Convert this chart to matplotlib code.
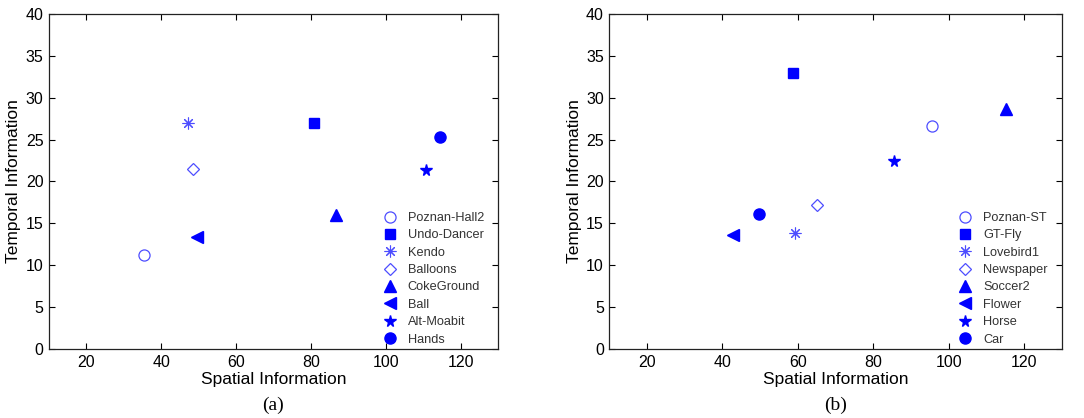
import matplotlib
matplotlib.use("Agg")
import matplotlib.pyplot as plt

plt.rcParams['font.family'] = ['Liberation Sans', 'DejaVu Sans']

# Panel (a)
names_a = ["Poznan-Hall2", "Undo-Dancer", "Kendo", "Balloons", "CokeGround", "Ball", "Alt-Moabit", "Hands"]
si_a = [35.4, 80.8, 47.2, 48.6, 86.7, 49.5, 110.7, 114.5]
ti_a = [11.2, 27.0, 27.0, 21.5, 16.0, 13.4, 21.4, 25.3]

# Panel (b)
names_b = ["Poznan-ST", "GT-Fly", "Lovebird1", "Newspaper", "Soccer2", "Flower", "Horse", "Car"]
si_b = [95.5, 58.8, 59.3, 65.0, 115.3, 42.8, 85.6, 49.7]
ti_b = [26.6, 33.0, 13.8, 17.2, 28.7, 13.6, 22.5, 16.1]

light = '#4d4dff'
blue = '#0000ff'

fig = plt.figure(figsize=(10.84, 4.18), dpi=100)
ax_a = fig.add_axes([0.0452, 0.1651, 0.4142, 0.8014])
ax_b = fig.add_axes([0.5621, 0.1651, 0.4173, 0.8014])


def draw(ax, names, xs, ys, caption):
    styles = [
        dict(marker='o', markersize=8, markerfacecolor='none', markeredgecolor=light, markeredgewidth=0.9),
        dict(marker='s', markersize=6.5, color=blue, markeredgecolor=blue),
        dict(marker=(8, 2, 0), markersize=8.5, color=light, markeredgecolor=light, markeredgewidth=0.8),
        dict(marker='D', markersize=6.5, markerfacecolor='none', markeredgecolor=light, markeredgewidth=0.9),
        dict(marker='^', markersize=8, color=blue, markeredgecolor=blue),
        dict(marker='<', markersize=8, color=blue, markeredgecolor=blue),
        dict(marker='*', markersize=8.5, color=blue, markeredgecolor=blue),
        dict(marker='o', markersize=8, color=blue, markeredgecolor=blue),
    ]
    for n, x, y, st in zip(names, xs, ys, styles):
        ax.plot([x], [y], linestyle='none', label=n, **st)
    ax.set_xlim(10, 130)
    ax.set_ylim(0, 40)
    ax.set_xticks([20, 40, 60, 80, 100, 120])
    ax.set_yticks(range(0, 41, 5))
    ax.tick_params(direction='in', top=True, right=True, length=4, width=0.8,
                   labelsize=11.5, colors='black', pad=4)
    for s in ax.spines.values():
        s.set_linewidth(0.9)
        s.set_color('#222222')
    ax.set_xlabel('Spatial Information', fontsize=12.5, labelpad=2)
    ax.set_ylabel('Temporal Information', fontsize=12.5, labelpad=3)
    leg = ax.legend(loc='lower right', frameon=False, fontsize=9.2,
                    handletextpad=0.8, labelspacing=0.42, borderaxespad=0.0,
                    handlelength=1.2, bbox_to_anchor=(0.98, -0.005))
    for t in leg.get_texts():
        t.set_color('#333333')
    ax.text(0.5, -0.168, caption, transform=ax.transAxes, ha='center', va='center',
            fontsize=14, family=['Liberation Serif', 'DejaVu Serif'])


draw(ax_a, names_a, si_a, ti_a, '(a)')
draw(ax_b, names_b, si_b, ti_b, '(b)')

fig.savefig('out.png', dpi=100)
